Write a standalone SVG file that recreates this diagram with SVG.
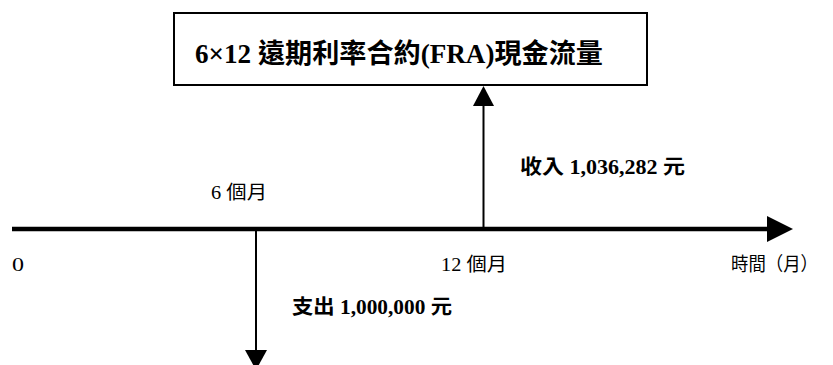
<svg xmlns="http://www.w3.org/2000/svg" width="833" height="365" viewBox="0 0 833 365">
<style>
.t{font-family:"Liberation Serif","Noto Sans CJK TC",serif;fill:#000}
.b{font-weight:bold}
.ln{stroke:#000;fill:none}
.ah{fill:#000}
</style>
<rect width="833" height="365" fill="#fff"/>
<g id="title">
<rect x="174" y="13" width="473" height="72" fill="#fff" stroke="#000" stroke-width="2"/>
<text class="t b" x="195" y="63" font-size="27" textLength="408" lengthAdjust="spacingAndGlyphs">6×12 遠期利率合約(FRA)現金流量</text>
</g>
<g id="connectors">
<line class="ln" x1="12" y1="229" x2="770" y2="229" stroke-width="4.5"/>
<polygon class="ah" points="767,216 793,229 767,242"/>
<line class="ln" x1="483.5" y1="229" x2="483.5" y2="104" stroke-width="2"/>
<polygon class="ah" points="473,106 494,106 483.5,86"/>
<line class="ln" x1="256" y1="229" x2="256" y2="352" stroke-width="2"/>
<polygon class="ah" points="245,350 267,350 256,370"/>
</g>
<g id="labels">
<text class="t b" x="520" y="174" font-size="20" textLength="165" lengthAdjust="spacingAndGlyphs">收入 1,036,282 元</text>
<text class="t b" x="292" y="314" font-size="20" textLength="160" lengthAdjust="spacingAndGlyphs">支出 1,000,000 元</text>
<text class="t" x="211" y="199" font-size="19" textLength="56" lengthAdjust="spacingAndGlyphs">6 個月</text>
<text class="t" x="12" y="271" font-size="19" textLength="12" lengthAdjust="spacingAndGlyphs">0</text>
<text class="t" x="441" y="271" font-size="19" textLength="66" lengthAdjust="spacingAndGlyphs">12 個月</text>
<text class="t" x="731" y="271" font-size="19" textLength="87" lengthAdjust="spacingAndGlyphs">時間（月）</text>
</g>
</svg>
